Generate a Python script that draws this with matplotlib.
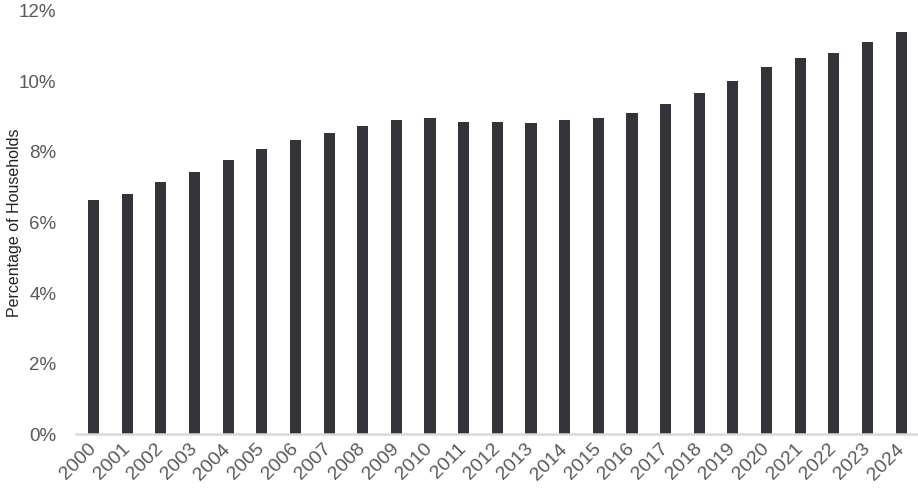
import matplotlib
matplotlib.use("Agg")
import matplotlib.pyplot as plt
from matplotlib import font_manager

years = [str(y) for y in range(2000, 2025)]
values = [6.64, 6.81, 7.15, 7.43, 7.77, 8.09, 8.34, 8.54, 8.74, 8.91, 8.96,
          8.85, 8.85, 8.82, 8.91, 8.96, 9.11, 9.36, 9.67, 10.01, 10.41,
          10.67, 10.81, 11.12, 11.40]
yticks = [0, 2, 4, 6, 8, 10, 12]
ytick_labels = [f"{t}%" for t in yticks]
ylabel = "Percentage of Households"

names = {f.name for f in font_manager.fontManager.ttflist}
narrow = "Liberation Sans Narrow" if "Liberation Sans Narrow" in names else "Liberation Sans"

plt.rcParams['font.family'] = ['Liberation Sans', 'DejaVu Sans']

fig = plt.figure(figsize=(9.18, 4.94), dpi=100)
ax = fig.add_axes([76/918, 1-434/494, 1-76/918, (434-11)/494])

x = list(range(len(years)))
ax.bar(x, values, width=0.33, color="#333439", zorder=2)

ax.set_xlim(-0.52, 24.5)
ax.set_ylim(0, 12)
ax.set_yticks(yticks)
ax.set_yticklabels(ytick_labels, fontsize=13.5, color="#595959")
ax.set_xticks(x)
ax.set_xticklabels(years, fontsize=14, color="#595959", rotation=45,
                   ha="right", va="center", rotation_mode="anchor")
ax.tick_params(axis="both", length=0)
ax.tick_params(axis="y", pad=14)
ax.tick_params(axis="x", pad=9)

for s in ["top", "right", "left"]:
    ax.spines[s].set_visible(False)
ax.spines["bottom"].set_color("#d9d9d9")
ax.spines["bottom"].set_linewidth(1.8)

fig.text(15/918, 1-223/494, ylabel, rotation=90, ha="center", va="center",
         fontsize=11.5, color="#222222", family=[narrow, 'DejaVu Sans'])

fig.savefig("out.png", dpi=100)
